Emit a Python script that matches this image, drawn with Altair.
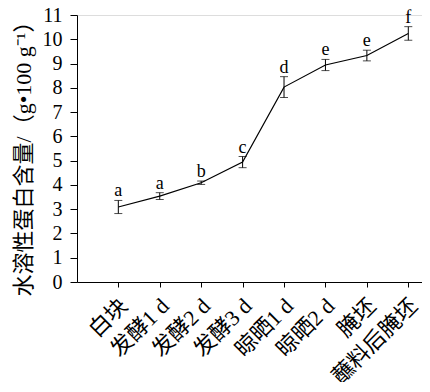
import altair as alt
import pandas as pd

categories = ["白块", "发酵1 d", "发酵2 d", "发酵3 d", "晾晒1 d", "晾晒2 d", "腌坯", "蘸料后腌坯"]
values = [3.09, 3.54, 4.09, 4.94, 8.03, 8.94, 9.33, 10.24]
errors = [0.27, 0.14, 0.07, 0.23, 0.43, 0.23, 0.22, 0.28]
letters = ["a", "a", "b", "c", "d", "e", "e", "f"]
y_ticks = list(range(12))

df = pd.DataFrame({"cat": categories, "v": values, "err": errors, "sig": letters})
df["lo"] = df["v"] - df["err"]
df["hi"] = df["v"] + df["err"]

FONT = "Times New Roman, Liberation Serif, Noto Sans CJK SC, serif"
YTITLE = "水溶性蛋白含量/（g•100 g⁻¹）"

xaxis = alt.Axis(title=None, labelAngle=-45, labelAlign="right", labelBaseline="middle",
                 labelFontSize=22, labelFont=FONT, labelColor="black",
                 labelPadding=15, labelOffset=5, tickSize=5, tickColor="black",
                 domainColor="black", labelLimit=300, labelOverlap=False)
yaxis = alt.Axis(title=YTITLE, values=y_ticks, tickCount=12,
                 titleFont=FONT, titleFontSize=22, titleFontWeight="normal",
                 titleColor="black", titleX=-54, titleY=138,
                 titleAlign="center", titleBaseline="middle", titleAngle=270,
                 labelFont=FONT, labelFontSize=20, labelColor="black",
                 labelPadding=8, tickSize=7, tickColor="black", labelOverlap=False,
                 domainColor="black", grid=False)
yscale = alt.Scale(domain=[0, 11], nice=False)
xscale = alt.Scale(type="point", padding=0.664, align=0.751)

def X():
    return alt.X("cat:N", sort=categories, scale=xscale, axis=xaxis)

def Y(field):
    return alt.Y(field, type="quantitative", scale=yscale, axis=yaxis, title=YTITLE)

base = alt.Chart(df)
line = base.mark_line(color="black", strokeWidth=1.2).encode(x=X(), y=Y("v"))
rule = base.mark_rule(color="black", strokeWidth=1).encode(x=X(), y=Y("lo"), y2="hi:Q")
cap_hi = base.mark_tick(color="black", thickness=1, size=8, orient="horizontal").encode(x=X(), y=Y("hi"))
cap_lo = base.mark_tick(color="black", thickness=1, size=8, orient="horizontal").encode(x=X(), y=Y("lo"))
txt = base.mark_text(font=FONT, fontSize=18, color="black", baseline="alphabetic", dy=-4).encode(
    x=X(), y=Y("hi"), text="sig:N")

chart = alt.layer(line, rule, cap_hi, cap_lo, txt).properties(
    width=345, height=267,
    padding={"left": 69, "top": 7, "right": 0, "bottom": 100},
    autosize=alt.AutoSizeParams(type="none"),
).configure_view(stroke=None).configure(background="white").configure_axis(
    labelFont=FONT, titleFont=FONT, labelColor="black", titleColor="black"
)

chart.save("out.html", embed_options={"renderer": "svg", "actions": False})
